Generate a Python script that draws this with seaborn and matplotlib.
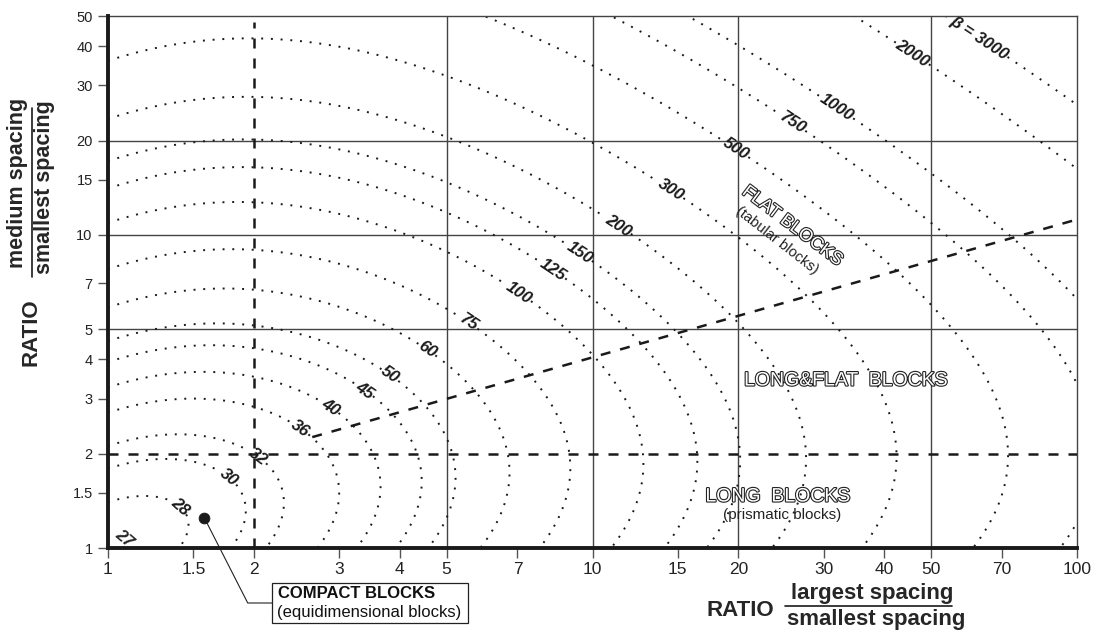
import numpy as np
import matplotlib
matplotlib.use('Agg')
import matplotlib.pyplot as plt
import matplotlib.patheffects as pe
from matplotlib.lines import Line2D
from matplotlib.patches import Rectangle
import seaborn as sns
import pandas as pd

# levels of the block shape factor beta drawn as contours
beta_levels = [28, 30, 32, 36, 40, 45, 50, 60, 75, 100, 125, 150, 200, 300, 500, 750, 1000, 2000, 3000]
x_ticks = [1, 1.5, 2, 3, 4, 5, 7, 10, 15, 20, 30, 40, 50, 70, 100]
y_ticks = [1, 1.5, 2, 3, 4, 5, 7, 10, 15, 20, 30, 40, 50]
grid_x = [5, 10, 20, 50]
grid_y = [5, 10, 20]

# class boundaries (dashed)
vert_x = [2, 2]
vert_y = [1, 48]
horiz_x = [1, 100]
horiz_y = [2, 2]
diag_x = [2.64, 100]
diag_y = [2.26, 11.2]

# compact block example
compact_x = [1.58]
compact_y = [1.25]

sns.set_theme(style='white')
plt.rcParams['font.family'] = ['Liberation Sans', 'DejaVu Sans']

W, H = 1099, 632
fig = plt.figure(figsize=(W / 100, H / 100), dpi=100)
ax = fig.add_axes([108 / W, 1 - 548 / H, (1077 - 108) / W, (548 - 16) / H])
ax.set_xscale('log')
ax.set_yscale('log')
ax.set_xlim(1, 100)
ax.set_ylim(1, 50)

# beta = (a2 + a3 + a2*a3)^3 / (a2*a3)^2
gx = np.logspace(0, 2.05, 700)
gy = np.logspace(0, 1.75, 700)
a2, a3 = np.meshgrid(gx, gy)
beta = (a2 + a3 + a2 * a3) ** 3 / (a2 * a3) ** 2

cs = ax.contour(a2, a3, beta, levels=beta_levels, colors='k',
                linewidths=1.4, linestyles=[(0, (1, 4))], zorder=2)

label_pos = [(1.46, 1.455), (1.83, 1.775), (2.12, 2.12), (2.52, 2.47), (2.91, 2.9),
             (3.39, 3.2), (3.91, 3.76), (4.62, 4.45), (5.7, 5.55), (7.15, 6.77),
             (8.5, 8.2), (9.63, 9.28), (11.7, 11.6), (14.6, 14.1), (20.2, 19.8),
             (26.8, 24.7), (34, 29.5), (47, 40.4), (63, 42.6)]
fmt = {lv: str(lv) for lv in beta_levels}
fmt[3000] = 'β = 3000'
labels = ax.clabel(cs, levels=beta_levels, manual=label_pos, fmt=fmt,
                   inline=True, inline_spacing=1, fontsize=12, colors='k')
for t in labels:
    t.set_fontstyle('italic')
    t.set_fontweight('bold')
ax.text(1.08, 1.07, '27', fontsize=12, fontstyle='italic', fontweight='bold',
        rotation=-40, ha='center', va='center')

# boundaries
bnd = pd.DataFrame({
    'x': vert_x + horiz_x + diag_x,
    'y': vert_y + horiz_y + diag_y,
    'line': ['v', 'v', 'h', 'h', 'd', 'd'],
})
for name, sub in bnd.groupby('line'):
    sns.lineplot(data=sub, x='x', y='y', ax=ax, color='k', lw=1.8,
                 estimator=None, sort=False, zorder=3)
for ln in ax.lines:
    ln.set_dashes((4, 4))

# grid
for gxv in grid_x:
    ax.axvline(gxv, color='#444', lw=1, zorder=1)
for gyv in grid_y:
    ax.axhline(gyv, color='#444', lw=1, zorder=1)

sns.scatterplot(x=compact_x, y=compact_y, ax=ax, color='k', s=60, zorder=4,
                edgecolor='k', legend=False)

# ticks and spines
ax.minorticks_off()
ax.set_xticks(x_ticks, labels=[f'{v:g}' for v in x_ticks])
ax.set_yticks(y_ticks, labels=[f'{v:g}' for v in y_ticks])
ax.tick_params(axis='x', which='major', direction='out', length=7, width=1,
               color='#555', labelsize=12.5, labelcolor='#222', pad=3, bottom=True)
ax.tick_params(axis='y', which='major', direction='out', length=7, width=1,
               color='#555', labelsize=10.5, labelcolor='#222', pad=4, left=True)
ax.tick_params(which='minor', length=0)
ax.set_xlabel('')
ax.set_ylabel('')
for side in ['left', 'bottom']:
    ax.spines[side].set_linewidth(2.8)
    ax.spines[side].set_color('#1a1a1a')
    ax.spines[side].set_zorder(5)
for side in ['top', 'right']:
    ax.spines[side].set_linewidth(1)
    ax.spines[side].set_color('#444')

# region labels (outlined text)
hollow = [pe.withStroke(linewidth=1.6, foreground='#222')]
fig.text(792 / W, 1 - 226 / H, 'FLAT BLOCKS', color='white', fontsize=13,
         rotation=-37, ha='center', va='center', path_effects=hollow)
fig.text(777 / W, 1 - 240 / H, '(tabular blocks)', color='#222', fontsize=10.5,
         rotation=-38, ha='center', va='center')
fig.text(846 / W, 1 - 381 / H, 'LONG&FLAT  BLOCKS', color='white', fontsize=14,
         ha='center', va='center', path_effects=hollow)
fig.text(778 / W, 1 - 497 / H, 'LONG  BLOCKS', color='white', fontsize=14,
         ha='center', va='center', path_effects=hollow)
fig.text(782 / W, 1 - 515 / H, '(prismatic blocks)', color='#222', fontsize=11,
         ha='center', va='center')

# compact block callout
ax.annotate('', xy=(compact_x[0], compact_y[0]), xytext=(272, H - 603),
            textcoords='figure pixels',
            arrowprops=dict(arrowstyle='-', connectionstyle='angle,angleA=0,angleB=-63,rad=0',
                            shrinkA=0, shrinkB=4, lw=0.8, color='#222'),
            annotation_clip=False)
fig.add_artist(Rectangle((272 / W, 1 - 623 / H), (468 - 272) / W, 40 / H,
                         transform=fig.transFigure, fill=False, lw=0.9, ec='#222'))
fig.text(278 / W, 1 - 593 / H, 'COMPACT BLOCKS', fontsize=12, fontweight='bold',
         color='#111', ha='left', va='center')
fig.text(277 / W, 1 - 612 / H, '(equidimensional blocks)', fontsize=12,
         color='#111', ha='left', va='center')

# axis titles
fig.text(740 / W, 1 - 610 / H, 'RATIO', fontsize=16, fontweight='bold',
         ha='center', va='center')
fig.text(872 / W, 1 - 594 / H, 'largest spacing', fontsize=16, fontweight='bold',
         ha='center', va='center')
fig.text(876 / W, 1 - 619 / H, 'smallest spacing', fontsize=16, fontweight='bold',
         ha='center', va='center')
fig.add_artist(Line2D([785 / W, 952 / W], [1 - 606 / H, 1 - 606 / H],
                      transform=fig.transFigure, color='k', lw=1.2))

fig.text(31 / W, 1 - 332 / H, 'RATIO', fontsize=16, fontweight='bold',
         rotation=90, ha='center', va='center')
fig.text(18 / W, 1 - 183 / H, 'medium spacing', fontsize=15.5, fontweight='bold',
         rotation=90, ha='center', va='center')
fig.text(45 / W, 1 - 187 / H, 'smallest spacing', fontsize=15.5, fontweight='bold',
         rotation=90, ha='center', va='center')
fig.add_artist(Line2D([32 / W, 32 / W], [1 - 108 / H, 1 - 277 / H],
                      transform=fig.transFigure, color='k', lw=1.2))

fig.savefig('out.png', dpi=100)
